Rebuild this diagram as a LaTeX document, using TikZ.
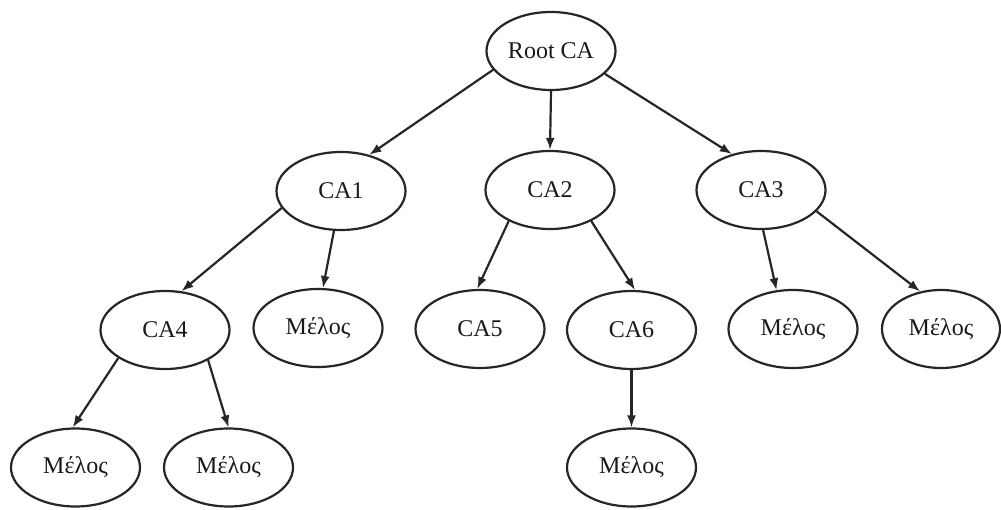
\documentclass[tikz,border=0pt]{standalone}
\usepackage{fontspec}
\setmainfont{Liberation Serif}
\usetikzlibrary{shapes.geometric,arrows.meta}
\begin{document}
\begin{tikzpicture}[x=1pt,y=-1pt,
  el/.style={ellipse,draw=black!85,line width=2.2pt,minimum width=129pt,minimum height=78pt,inner sep=0pt,font=\fontsize{24}{27}\selectfont,text=black!90},
  arr/.style={draw=black!85,line width=2.2pt,-{Latex[length=12pt,width=9pt]}}]
\useasboundingbox (0,0) rectangle (1001,510);
\node[el] (root) at (551,51) {Root CA};
\node[el] (ca1) at (341,191) {CA1};
\node[el] (ca2) at (550,190) {CA2};
\node[el] (ca3) at (761,190) {CA3};
\node[el] (ca4) at (165,330) {CA4};
\node[el] (m1) at (318,328) {Μέλος};
\node[el] (ca5) at (480,329) {CA5};
\node[el] (ca6) at (631.5,330) {CA6};
\node[el] (m2) at (793,329) {Μέλος};
\node[el,minimum width=118pt] (m3) at (941,329) {Μέλος};
\node[el] (m4) at (75.5,467.5) {Μέλος};
\node[el] (m5) at (228.5,467.5) {Μέλος};
\node[el] (m6) at (631.5,467.5) {Μέλος};
\draw[arr] (root.198) -- (ca1.52);
\draw[arr] (root.south) -- (ca2.north);
\draw[arr] (root.337) -- (ca3.129);
\draw[arr] (ca1.196) -- (ca4.67);
\draw[arr] (ca1.260) -- (m1.83);
\draw[arr] (ca2.217) -- (ca5.94);
\draw[arr] (ca2.323) -- (ca6.85);
\draw[arr] (ca3.273) -- (m2.113);
\draw[arr] (ca3.339) -- (m3.119);
\draw[arr] (ca4.211) -- (m4.94);
\draw[arr] (ca4.325) -- (m5.90);
\draw[arr] (ca6.south) -- (m6.north);
\end{tikzpicture}
\end{document}
